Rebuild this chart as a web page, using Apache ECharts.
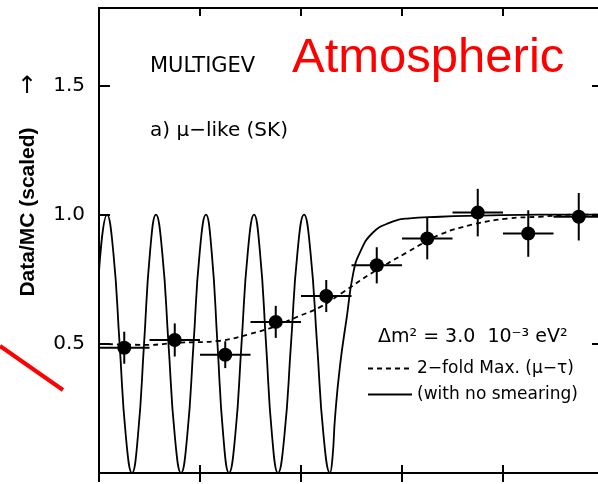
<!DOCTYPE html>
<html>
<head>
<meta charset="utf-8">
<script src="https://cdn.jsdelivr.net/npm/echarts@6/dist/echarts.min.js"></script>
<style>
html, body { margin: 0; padding: 0; background: #fff; }
#chart { width: 598px; height: 484px; }
</style>
</head>
<body>
<div id="chart"></div>
<script>
// measured points: bin centres, ratio and error
const binCenters = [0.25, 0.75, 1.25, 1.75, 2.25, 2.75, 3.25, 3.75, 4.25, 4.75]
const binHalfWidth = 0.25
const ratio = [0.485, 0.515, 0.458, 0.585, 0.685, 0.804, 0.908, 1.008, 0.927, 0.992]
const ratioErr = [0.062, 0.064, 0.052, 0.062, 0.062, 0.07, 0.081, 0.092, 0.09, 0.092]

// 2-fold maximal mixing (dashed)
const smearX = [0, 0.485, 0.782, 1.198, 1.495, 1.723, 1.96, 2.188, 2.416, 2.713, 3.05, 3.376, 3.703, 4.04, 4.366, 4.693, 5.0]
const smearY = [0.5, 0.496, 0.504, 0.512, 0.538, 0.565, 0.604, 0.642, 0.7, 0.777, 0.854, 0.923, 0.962, 0.985, 0.992, 1.0, 1.0]

// same, with no smearing (solid)
const noSmearX = [0.00, 0.08, 0.142, 0.204, 0.265, 0.327, 0.386, 0.446, 0.505, 0.564, 0.626, 0.688, 0.750, 0.812,
  0.874, 0.936, 0.997, 1.059, 1.116, 1.173, 1.230, 1.287, 1.349, 1.411, 1.473, 1.535, 1.594, 1.654, 1.713, 1.772,
  1.836, 1.901, 1.965, 2.030, 2.094, 2.159, 2.223, 2.287, 2.312, 2.337, 2.386, 2.455, 2.515, 2.584, 2.713, 2.881, 3.05,
  3.376, 3.772, 4.366, 5.0]
const noSmearY = [0.78, 1.0, 0.854, 0.5, 0.146, 0.0, 0.146, 0.5, 0.854, 1.0, 0.854, 0.5, 0.146, 0.0,
  0.146, 0.5, 0.854, 1.0, 0.854, 0.5, 0.146, 0.0, 0.146, 0.5, 0.854, 1.0, 0.854, 0.5, 0.146, 0.0,
  0.146, 0.5, 0.854, 1.0, 0.854, 0.5, 0.146, 0.0, 0.06, 0.215, 0.415, 0.608, 0.769, 0.854, 0.931, 0.969, 0.985,
  0.992, 0.996, 1.0, 1.0]

const yTickLabels = ['0.5', '1.0', '1.5']
const smearName = '2−fold Max. (μ−τ)'
const noSmearName = '(with no smearing)'

const chart = echarts.init(document.getElementById('chart'))

const font = 'DejaVu Sans'
const axisLine = { show: true, onZero: false, lineStyle: { color: '#000', width: 2 } }
const tickStyle = { color: '#000', width: 2 }

const xBase = {
  type: 'value', min: 0, max: 5, interval: 1,
  axisLine: axisLine, axisLabel: { show: false }, splitLine: { show: false }
}
const yBase = {
  type: 'value', min: 0, max: 1.8, interval: 0.5,
  axisLine: axisLine, splitLine: { show: false }
}

chart.setOption({
  animation: false,
  grid: { left: 99, right: -6, top: 8, bottom: 11, outerBoundsMode: 'none' },
  xAxis: [
    Object.assign({}, xBase, { position: 'bottom', axisTick: { inside: true, length: 8, lineStyle: tickStyle } }),
    Object.assign({}, xBase, { position: 'bottom', axisTick: { inside: false, length: 9, lineStyle: tickStyle } }),
    Object.assign({}, xBase, { position: 'top', axisTick: { inside: true, length: 8, lineStyle: tickStyle } })
  ],
  yAxis: [
    Object.assign({}, yBase, {
      position: 'left',
      axisTick: { inside: true, length: 11, lineStyle: tickStyle },
      axisLabel: {
        margin: 14, color: '#000', fontFamily: font, fontSize: 20,
        formatter: function (v) {
          const s = v.toFixed(1)
          return yTickLabels.indexOf(s) >= 0 ? s : ''
        }
      }
    }),
    Object.assign({}, yBase, {
      position: 'right',
      axisTick: { inside: true, length: 12, lineStyle: tickStyle },
      axisLabel: { show: false }
    })
  ],
  legend: {
    orient: 'vertical',
    left: 367,
    top: 360,
    padding: 0,
    itemWidth: 44,
    itemHeight: 16,
    itemGap: 9,
    itemStyle: { opacity: 0 },
    data: [smearName, noSmearName],
    textStyle: { color: '#000', fontFamily: font, fontSize: 17, lineHeight: 16 }
  },
  graphic: [
    { type: 'text', left: 150, top: 56, style: { text: 'MULTIGEV', fill: '#000', font: '21px "DejaVu Sans"' } },
    { type: 'text', left: 292, top: 34, style: { text: 'Atmospheric', fill: '#ff0000', font: '49px "Liberation Sans"' } },
    { type: 'text', left: 150, top: 121, style: { text: 'a) μ−like (SK)', fill: '#000', font: '20px "DejaVu Sans"' } },
    { type: 'text', left: 378, top: 328, style: { text: 'Δm² = 3.0  10⁻³ eV²', fill: '#000', font: '19px "DejaVu Sans"' } },
    {
      type: 'text', x: 28, y: 212, rotation: Math.PI / 2,
      style: { text: 'Data/MC (scaled)', fill: '#000', font: 'bold 21px "Liberation Sans"', align: 'center', verticalAlign: 'middle' }
    },
    {
      type: 'text', x: 27, y: 87,
      style: { text: '↑', fill: '#000', font: '24px "DejaVu Sans"', align: 'center', verticalAlign: 'middle' }
    },
    { type: 'line', shape: { x1: 0, y1: 346, x2: 63, y2: 390 }, style: { stroke: '#ff0000', lineWidth: 4 } }
  ],
  series: [
    {
      name: noSmearName,
      type: 'line',
      symbol: 'none',
      smooth: 0.5,
      lineStyle: { color: '#000', width: 1.8 },
      itemStyle: { color: '#000' },
      data: noSmearX.map((x, i) => [x, noSmearY[i]]),
      z: 2
    },
    {
      name: smearName,
      type: 'line',
      symbol: 'none',
      smooth: 0.4,
      lineStyle: { color: '#000', width: 1.8, type: [5, 4] },
      itemStyle: { color: '#000' },
      data: smearX.map((x, i) => [x, smearY[i]]),
      z: 2
    },
    {
      name: 'errors',
      type: 'custom',
      data: binCenters.map((x, i) => [x, ratio[i], ratioErr[i]]),
      renderItem: function (params, api) {
        const x = api.value(0)
        const y = api.value(1)
        const e = api.value(2)
        const l = api.coord([x - binHalfWidth, y])
        const r = api.coord([x + binHalfWidth, y])
        const t = api.coord([x, y + e])
        const b = api.coord([x, y - e])
        const st = { stroke: '#000', lineWidth: 2 }
        return {
          type: 'group',
          children: [
            { type: 'line', shape: { x1: l[0], y1: l[1], x2: r[0], y2: r[1] }, style: st },
            { type: 'line', shape: { x1: t[0], y1: t[1], x2: b[0], y2: b[1] }, style: st }
          ]
        }
      },
      z: 3
    },
    {
      name: 'data',
      type: 'scatter',
      symbol: 'circle',
      symbolSize: 14,
      itemStyle: { color: '#000', opacity: 1 },
      data: binCenters.map((x, i) => [x, ratio[i]]),
      z: 4
    }
  ]
})
</script>
</body>
</html>
